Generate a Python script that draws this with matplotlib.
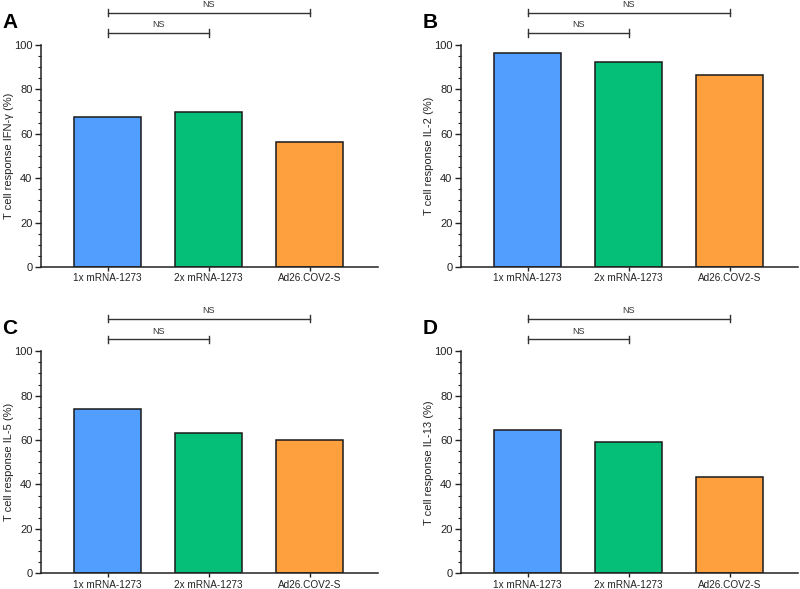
import numpy as np
import matplotlib.pyplot as plt
from matplotlib.ticker import MultipleLocator

plt.rcParams['font.family'] = ['Liberation Sans', 'DejaVu Sans']

groups = ["1x mRNA-1273", "2x mRNA-1273", "Ad26.COV2-S"]
colors = ["#529EFF", "#05BF78", "#FFA03F"]

ifn_g = [67.4, 70.0, 56.2]
il2 = [96.5, 92.2, 86.3]
il5 = [74.2, 63.0, 60.0]
il13 = [64.5, 59.3, 43.2]

panels = ["A", "B", "C", "D"]
ylabels = ["T cell response IFN-\u03b3 (%)", "T cell response IL-2 (%)",
           "T cell response IL-5 (%)", "T cell response IL-13 (%)"]
values = [ifn_g, il2, il5, il13]

fig = plt.figure(figsize=(8, 5.89), dpi=100)

# axes boxes in figure fractions
lefts = [0.051, 0.576, 0.051, 0.576]
bottoms = [0.5467, 0.5467, 0.0267, 0.0267]
w, h = 0.421, 0.377

x = np.arange(3)
for i in range(4):
    ax = fig.add_axes([lefts[i], bottoms[i], w, h])
    ax.bar(x, values[i], width=0.66, color=colors, edgecolor="#1a1a1a", linewidth=1.1)
    ax.set_xlim(-0.66, 2.67)
    ax.set_ylim(0, 100)
    ax.set_xticks(x)
    ax.set_xticklabels(groups, fontsize=7.2)
    ax.set_yticks(range(0, 101, 20))
    ax.yaxis.set_minor_locator(MultipleLocator(5))
    ax.tick_params(axis="y", labelsize=8, length=4, width=1, pad=2, colors="#222222")
    ax.tick_params(axis="y", which="minor", length=2, width=0.8, colors="#222222")
    ax.tick_params(axis="x", length=3, width=1, colors="#222222", pad=1.5)
    ax.set_ylabel(ylabels[i], fontsize=8, color="#222222")
    ax.yaxis.set_label_coords(-0.08, 0.5)
    for s in ["top", "right"]:
        ax.spines[s].set_visible(False)
    for s in ["left", "bottom"]:
        ax.spines[s].set_linewidth(1.1)
        ax.spines[s].set_color("#222222")

    # significance brackets
    for (x0, x1, yb) in [(0, 1, 105.4), (0, 2, 114.6)]:
        ax.plot([x0, x1], [yb, yb], color="#333333", lw=1.0, clip_on=False)
        for xe in (x0, x1):
            ax.plot([xe, xe], [yb - 1.6, yb + 1.6], color="#333333", lw=1.0, clip_on=False)
        ax.text((x0 + x1) / 2, yb + 1.6, "NS", ha="center", va="bottom",
                fontsize=6.5, color="#333333", clip_on=False)

    fig.text(lefts[i] - 0.048, bottoms[i] + h + 0.038, panels[i], fontsize=15,
             fontweight="bold", ha="left", va="center")

fig.savefig("out.png", dpi=100)
